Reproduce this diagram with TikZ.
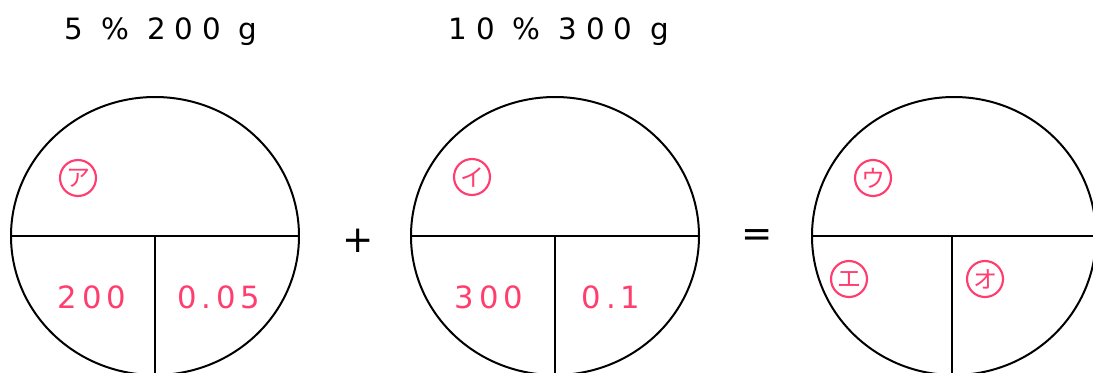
\documentclass[tikz,border=0pt]{standalone}
\usepackage{fontspec}
\setmainfont{DejaVu Sans}
\newfontfamily\jp{Noto Sans CJK JP}
\definecolor{pinkred}{HTML}{FF3D6E}
\tikzset{
  bowl/.style={draw=black, line width=1.5pt},
  divider/.style={draw=black, line width=1.5pt},
  tag/.style={circle, draw=pinkred, line width=1.6pt, minimum size=27pt, inner sep=0pt, text=pinkred, font=\jp\fontsize{18}{18}\selectfont},
  num/.style={text=pinkred, font=\fontsize{23}{23}\selectfont\addfontfeatures{LetterSpace=16}, inner sep=0pt},
  head/.style={text=black, font=\fontsize{22}{22}\selectfont\addfontfeatures{LetterSpace=30}, inner sep=0pt},
  op/.style={text=black, font=\fontsize{28}{28}\selectfont, inner sep=0pt}
}
\begin{document}
\begin{tikzpicture}[x=0.75pt,y=-0.75pt]
\useasboundingbox (0,0) rectangle (1093,372);
\clip (0,0) rectangle (1093,372);
% headings
\node[head] (h1) at (161,32) {5 \% 200 g};
\node[head] (h2) at (559,32) {10 \% 300 g};
% bowl 1
\draw[bowl] (155,236) ellipse [x radius=144, y radius=139];
\coordinate (c1) at (155,236);
\draw[divider] (11,236) -- (299,236);
\draw[divider] (c1) -- (155,380);
% bowl 2
\draw[bowl] (555,236) ellipse [x radius=144, y radius=139];
\coordinate (c2) at (555,236);
\draw[divider] (411,236) -- (699,236);
\draw[divider] (c2) -- (555,380);
% bowl 3
\draw[bowl] (954,236) ellipse [x radius=142, y radius=139];
\coordinate (c3) at (952,236);
\draw[divider] (812,236) -- (1096,236);
\draw[divider] (c3) -- (952,380);
% operators
\node[op] (plus) at (358,241) {+};
\node[op] (eq) at (757,238) {=};
% tags
\node[tag] (a) at (78,178) {ア};
\node[tag] (i) at (472,177) {イ};
\node[tag] (u) at (873,178) {ウ};
\node[tag] (e) at (849,279) {エ};
\node[tag] (o) at (985,279) {オ};
% numbers
\node[num] (n1) at (92,297) {200};
\node[num] (n2) at (219,297) {0.05};
\node[num] (n3) at (489,297) {300};
\node[num] (n4) at (611,297) {0.1};
\end{tikzpicture}
\end{document}
